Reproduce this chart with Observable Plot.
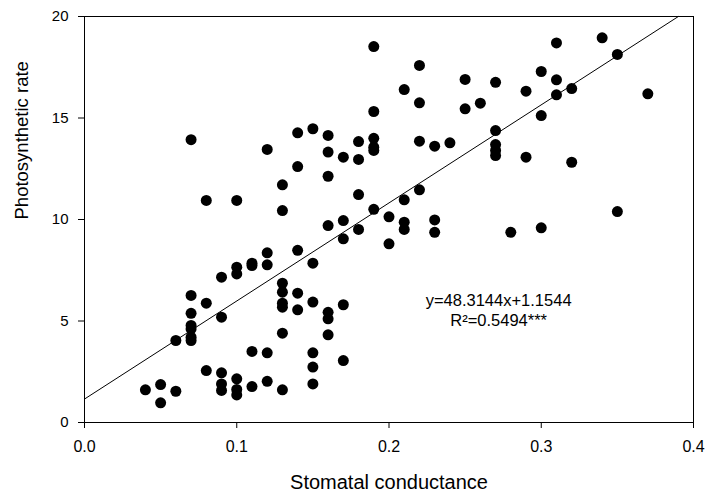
<!DOCTYPE html>
<html>
<head>
<meta charset="utf-8">
<script src="https://cdn.jsdelivr.net/npm/d3@7"></script>
<script src="https://cdn.jsdelivr.net/npm/@observablehq/plot@0.6"></script>
<style>
  html, body { margin: 0; padding: 0; background: #fff; }
  #chart svg { display: block; }
</style>
</head>
<body>
<div id="chart"></div>
<script>
// Stomatal conductance (x) and photosynthetic rate (y)
const conductance = [
  0.04,
  0.05, 0.05,
  0.06, 0.06,
  0.07, 0.07, 0.07, 0.07, 0.07, 0.07, 0.07,
  0.08, 0.08, 0.08,
  0.09, 0.09, 0.09, 0.09, 0.09,
  0.10, 0.10, 0.10, 0.10, 0.10, 0.10,
  0.11, 0.11, 0.11, 0.11,
  0.12, 0.12, 0.12, 0.12, 0.12,
  0.13, 0.13, 0.13, 0.13, 0.13, 0.13, 0.13, 0.13,
  0.14, 0.14, 0.14, 0.14, 0.14,
  0.15, 0.15, 0.15, 0.15, 0.15, 0.15,
  0.16, 0.16, 0.16, 0.16, 0.16, 0.16, 0.16,
  0.17, 0.17, 0.17, 0.17, 0.17,
  0.18, 0.18, 0.18, 0.18,
  0.19, 0.19, 0.19, 0.19, 0.19, 0.19,
  0.20, 0.20,
  0.21, 0.21, 0.21, 0.21,
  0.22, 0.22, 0.22, 0.22,
  0.23, 0.23, 0.23,
  0.24,
  0.25, 0.25,
  0.26,
  0.27, 0.27, 0.27, 0.27, 0.27,
  0.28,
  0.29, 0.29,
  0.30, 0.30, 0.30,
  0.31, 0.31, 0.31,
  0.32, 0.32,
  0.34,
  0.35, 0.35,
  0.37
];
const photosynthesis = [
  1.61,
  1.87, 0.97,
  4.04, 1.54,
  13.93, 6.26, 5.38, 4.78, 4.61, 4.20, 4.04,
  10.94, 5.88, 2.56,
  7.16, 5.19, 2.45, 1.90, 1.58,
  10.94, 7.65, 7.32, 2.15, 1.63, 1.36,
  7.85, 7.73, 3.50, 1.77,
  13.45, 8.36, 7.77, 3.43, 2.03,
  11.71, 10.44, 6.86, 6.42, 5.88, 5.68, 4.40, 1.61,
  14.27, 12.61, 8.48, 6.37, 5.55,
  14.47, 7.85, 5.93, 3.43, 2.73, 1.90,
  14.14, 13.32, 12.13, 9.70, 5.43, 5.11, 4.32,
  13.07, 9.95, 9.05, 5.80, 3.05,
  13.84, 12.96, 11.23, 9.51,
  18.52, 15.32, 14.00, 13.56, 13.40, 10.50,
  10.13, 8.80,
  16.40, 10.97, 9.87, 9.51,
  17.59, 15.75, 13.86, 11.46,
  13.61, 9.98, 9.37,
  13.78,
  16.90, 15.45,
  15.73,
  16.76, 14.38, 13.69, 13.40, 13.15,
  9.37,
  16.32, 13.07,
  17.29, 15.12, 9.59,
  18.70, 16.88, 16.14,
  16.45, 12.82,
  18.95,
  18.13, 10.39,
  16.19
];
const xTicks = [0, 0.1, 0.2, 0.3, 0.4];
const yTicks = [0, 5, 10, 15, 20];
const xLabel = "Stomatal conductance";
const yLabel = "Photosynthetic rate";
const slope = 48.3144;
const intercept = 1.1544;
const equationText = "y=48.3144x+1.1544";
const r2Text = "R\u00B2=0.5494***";

const points = conductance.map((g, i) => ({g, p: photosynthesis[i]}));
const xDomain = [0, 0.4];
const yDomain = [0, 20];
const xEnd = Math.min(xDomain[1], (yDomain[1] - intercept) / slope);
const fitLine = [xDomain[0], xEnd].map(g => ({g, p: slope * g + intercept}));

const font = "'Liberation Sans', Arial, Helvetica, sans-serif";

const chart = Plot.plot({
  width: 706,
  height: 494,
  marginLeft: 84,
  marginRight: 13,
  marginTop: 16,
  marginBottom: 72,
  style: {fontFamily: font, background: "#fff", color: "#000"},
  x: {domain: xDomain},
  y: {domain: yDomain},
  marks: [
    Plot.frame({stroke: "#000", strokeWidth: 1}),
    Plot.axisX({ticks: xTicks, tickFormat: d3.format(".1f"), tickSize: 6, tickPadding: 12, fontSize: 16, label: null, stroke: "#000"}),
    Plot.axisY({ticks: yTicks, tickFormat: d => String(d), tickSize: 6, tickPadding: 10, fontSize: 15, label: null, stroke: "#000"}),
    Plot.text([xLabel], {frameAnchor: "bottom", dy: 60, text: d => d, fontSize: 20, lineAnchor: "middle", fill: "#000"}),
    Plot.text([yLabel], {frameAnchor: "left", dx: -62, rotate: -90, text: d => d, fontSize: 18.5, lineAnchor: "middle", fill: "#000"}),
    Plot.line(fitLine, {x: "g", y: "p", stroke: "#000", strokeWidth: 1}),
    Plot.dot(points, {x: "g", y: "p", r: 5.5, fill: "#000", stroke: "none"}),
    Plot.text([equationText], {x: () => 0.272, y: () => 6.0, text: d => d, fontSize: 16.5, fill: "#000"}),
    Plot.text([r2Text], {x: () => 0.272, y: () => 5.0, text: d => d, fontSize: 16.5, fill: "#000"})
  ]
});
document.getElementById("chart").appendChild(chart);
</script>
</body>
</html>
